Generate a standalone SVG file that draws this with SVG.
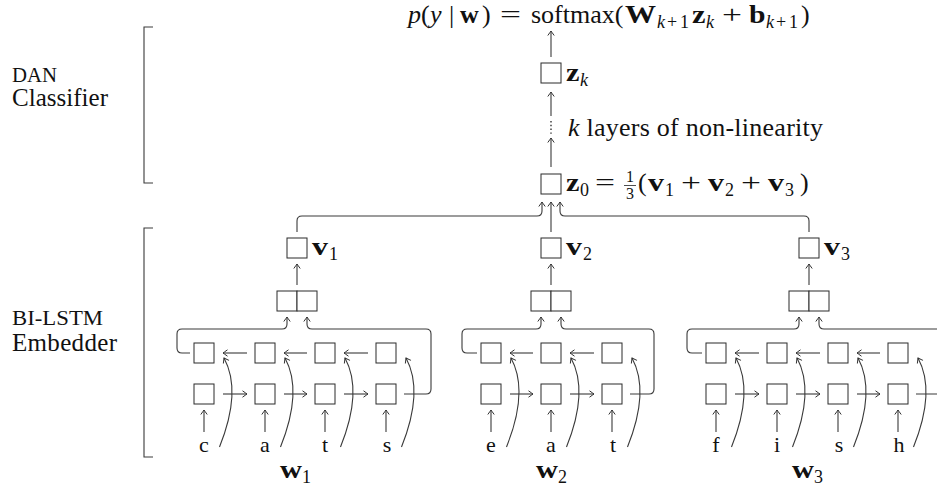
<svg xmlns="http://www.w3.org/2000/svg" width="937" height="490" viewBox="0 0 937 490">
<style>
.box{fill:#fff;stroke:#2b2b2b;stroke-width:1}
.ln{fill:none;stroke:#3a3a3a;stroke-width:1.1}
.ar{marker-end:url(#arr)}
.t{font-family:"Liberation Serif","DejaVu Serif",serif;fill:#111}
.m{font-size:26px}
.b{font-weight:bold}
.i{font-style:italic}
.sub{font-size:18px}
.ch{font-size:22px;text-anchor:middle}
.lab{font-size:25px}
.sc{font-size:20px}
</style>
<defs>
<marker id="arr" viewBox="-6 -5 8 10" markerWidth="8" markerHeight="10" refX="0" refY="0" orient="auto" markerUnits="userSpaceOnUse">
<path d="M-4.5,-3.2 Q-1,-0.7 0,0 Q-1,0.7 -4.5,3.2" fill="none" stroke="#333" stroke-width="1"/>
</marker>
</defs>

<!-- side labels and brackets -->
<g id="dan-label">
<text class="t sc" x="12" y="82" textLength="45" lengthAdjust="spacingAndGlyphs">DAN</text>
<text class="t lab" x="12" y="106" textLength="96">Classifier</text>
<path class="ln" d="M153,27 H144 V183 H153"/>
</g>
<g id="bilstm-label">
<text class="t sc" x="12" y="325" textLength="91" lengthAdjust="spacingAndGlyphs">BI-LSTM</text>
<text class="t lab" x="12" y="351" textLength="105">Embedder</text>
<path class="ln" d="M153,228 H144 V457 H153"/>
</g>

<!-- connectors -->
<g id="connectors">
<!-- top stack -->
<path class="ln ar" d="M551,57 V31"/>
<path class="ln ar" d="M551,116 V92"/>
<path d="M551,121 V134" fill="none" stroke="#333" stroke-width="1.4" stroke-dasharray="1.4 2.4"/>
<path class="ln ar" d="M551,167 V138"/>
<!-- v to z0 -->
<path class="ln ar" d="M297,232 V221 Q297,216 302,216 H537 Q542,216 542,211 V202"/>
<path class="ln ar" d="M551,232 V202"/>
<path class="ln ar" d="M809,232 V221 Q809,216 804,216 H565 Q560,216 560,211 V202"/>
<!-- concat to v -->
<path class="ln ar" d="M297,285 V264"/>
<path class="ln ar" d="M551,285 V264"/>
<path class="ln ar" d="M809,285 V264"/>
<!-- word 1 final states -->
<path class="ln ar" d="M190,353 H182 Q177,353 177,348 V334 Q177,329 182,329 H282 Q287,329 287,324 V317"/>
<path class="ln ar" d="M404,394 H426 Q431,394 431,389 V334 Q431,329 426,329 H312 Q307,329 307,324 V317"/>
<!-- word 2 final states -->
<path class="ln ar" d="M477,353 H467 Q462,353 462,348 V334 Q462,329 467,329 H536 Q541,329 541,324 V317"/>
<path class="ln ar" d="M630,394 H649 Q654,394 654,389 V334 Q654,329 649,329 H566 Q561,329 561,324 V317"/>
<!-- word 3 final states -->
<path class="ln ar" d="M702,353 H692 Q687,353 687,348 V334 Q687,329 692,329 H794 Q799,329 799,324 V317"/>
<path class="ln ar" d="M916,394 H950 Q955,394 955,389 V334 Q955,329 950,329 H824 Q819,329 819,324 V317"/>
<!-- word 1 recurrences -->
<path class="ln ar" d="M223,394 H247"/><path class="ln ar" d="M284,394 H307"/><path class="ln ar" d="M344,394 H368"/>
<path class="ln ar" d="M247,353 H223"/><path class="ln ar" d="M307,353 H284"/><path class="ln ar" d="M368,353 H344"/>
<!-- word 2 recurrences -->
<path class="ln ar" d="M510,394 H533"/><path class="ln ar" d="M570,394 H594"/>
<path class="ln ar" d="M533,353 H510"/><path class="ln ar" d="M594,353 H570"/>
<!-- word 3 recurrences -->
<path class="ln ar" d="M735,394 H759"/><path class="ln ar" d="M796,394 H820"/><path class="ln ar" d="M857,394 H880"/>
<path class="ln ar" d="M759,353 H735"/><path class="ln ar" d="M820,353 H796"/><path class="ln ar" d="M880,353 H857"/>
<!-- char inputs to forward cells -->
<path class="ln ar" d="M204,432 V410"/><path class="ln ar" d="M265,432 V410"/><path class="ln ar" d="M325,432 V410"/><path class="ln ar" d="M386,432 V410"/>
<path class="ln ar" d="M491,432 V410"/><path class="ln ar" d="M551,432 V410"/><path class="ln ar" d="M612,432 V410"/>
<path class="ln ar" d="M716,432 V410"/><path class="ln ar" d="M777,432 V410"/><path class="ln ar" d="M838,432 V410"/><path class="ln ar" d="M898,432 V410"/>
<!-- char inputs to backward cells (arcs) -->
<path class="ln ar" d="M219.5,447 Q242,391 224,358"/>
<path class="ln ar" d="M280.5,447 Q303,391 285,358"/>
<path class="ln ar" d="M340.5,447 Q363,391 345,358"/>
<path class="ln ar" d="M401.5,447 Q424,391 406,358"/>
<path class="ln ar" d="M506.5,447 Q529,391 511,358"/>
<path class="ln ar" d="M566.5,447 Q589,391 571,358"/>
<path class="ln ar" d="M627.5,447 Q650,391 632,358"/>
<path class="ln ar" d="M731.5,447 Q754,391 736,358"/>
<path class="ln ar" d="M792.5,447 Q815,391 797,358"/>
<path class="ln ar" d="M853.5,447 Q876,391 858,358"/>
<path class="ln ar" d="M913.5,447 Q936,391 918,358"/>
</g>

<!-- output formula -->
<g id="output">
<text class="t m" y="23"><tspan x="408" class="i">p</tspan><tspan x="421">(</tspan><tspan x="430" class="i">y</tspan><tspan x="449">|</tspan><tspan x="460" class="b">w</tspan><tspan x="482">)</tspan><tspan x="531">softmax(</tspan></text>
<text class="t m" x="500" y="23" textLength="21" lengthAdjust="spacingAndGlyphs">=</text>
<text class="t m b" x="625" y="23" textLength="31" lengthAdjust="spacingAndGlyphs">W</text>
<text class="t sub" y="28"><tspan x="657" class="i">k</tspan><tspan x="667">+</tspan><tspan x="680">1</tspan></text>
<text class="t m b" x="692" y="23" textLength="13.5" lengthAdjust="spacingAndGlyphs">z</text>
<text class="t sub i" x="706" y="28">k</text>
<text class="t m" x="722" y="23" textLength="20" lengthAdjust="spacingAndGlyphs">+</text>
<text class="t m b" x="749" y="23" textLength="16.5" lengthAdjust="spacingAndGlyphs">b</text>
<text class="t sub" y="28"><tspan x="766" class="i">k</tspan><tspan x="776">+</tspan><tspan x="789">1</tspan></text>
<text class="t m" x="801" y="23">)</text>
</g>

<g id="zk">
<rect class="box" x="541" y="63" width="20" height="20"/>
<text class="t m b" x="566" y="81" textLength="13.5" lengthAdjust="spacingAndGlyphs">z</text>
<text class="t sub i" x="580" y="86">k</text>
</g>

<g id="layers-label">
<text class="t m" x="568" y="136" textLength="255"><tspan class="i">k</tspan> layers of non-linearity</text>
</g>

<g id="z0">
<rect class="box" x="541" y="174" width="20" height="20"/>
<text class="t m b" x="566" y="191" textLength="13.5" lengthAdjust="spacingAndGlyphs">z</text>
<text class="t sub" x="580" y="196">0</text>
<text class="t m" x="595" y="191" textLength="20" lengthAdjust="spacingAndGlyphs">=</text>
<text class="t" x="630" y="182" font-size="16" text-anchor="middle">1</text>
<line x1="624" y1="185.5" x2="636" y2="185.5" stroke="#222" stroke-width="0.8"/>
<text class="t" x="630" y="199" font-size="16" text-anchor="middle">3</text>
<text class="t m" x="638" y="191">(</text>
<text class="t m b" x="648" y="191" textLength="16" lengthAdjust="spacingAndGlyphs">v</text><text class="t sub" x="665" y="196">1</text>
<text class="t m" x="681" y="191" textLength="20" lengthAdjust="spacingAndGlyphs">+</text>
<text class="t m b" x="708" y="191" textLength="16" lengthAdjust="spacingAndGlyphs">v</text><text class="t sub" x="725" y="196">2</text>
<text class="t m" x="741" y="191" textLength="20" lengthAdjust="spacingAndGlyphs">+</text>
<text class="t m b" x="768" y="191" textLength="16" lengthAdjust="spacingAndGlyphs">v</text><text class="t sub" x="785" y="196">3</text>
<text class="t m" x="800" y="191">)</text>
</g>

<g id="v1"><rect class="box" x="287" y="238" width="20" height="20"/><text class="t m b" x="312" y="255" textLength="16" lengthAdjust="spacingAndGlyphs">v</text><text class="t sub" x="329" y="260">1</text></g>
<g id="v2"><rect class="box" x="541" y="238" width="20" height="20"/><text class="t m b" x="566" y="255" textLength="16" lengthAdjust="spacingAndGlyphs">v</text><text class="t sub" x="583" y="260">2</text></g>
<g id="v3"><rect class="box" x="799" y="238" width="20" height="20"/><text class="t m b" x="824" y="255" textLength="16" lengthAdjust="spacingAndGlyphs">v</text><text class="t sub" x="841" y="260">3</text></g>

<g id="concat1"><rect class="box" x="277" y="291" width="20" height="20"/><rect class="box" x="297" y="291" width="20" height="20"/></g>
<g id="concat2"><rect class="box" x="531" y="291" width="20" height="20"/><rect class="box" x="551" y="291" width="20" height="20"/></g>
<g id="concat3"><rect class="box" x="789" y="291" width="20" height="20"/><rect class="box" x="809" y="291" width="20" height="20"/></g>

<!-- word 1 cells -->
<g id="w1-bwd"><rect class="box" x="194" y="343" width="20" height="20"/><rect class="box" x="255" y="343" width="20" height="20"/><rect class="box" x="315" y="343" width="20" height="20"/><rect class="box" x="376" y="343" width="20" height="20"/></g>
<g id="w1-fwd"><rect class="box" x="194" y="384" width="20" height="20"/><rect class="box" x="255" y="384" width="20" height="20"/><rect class="box" x="315" y="384" width="20" height="20"/><rect class="box" x="376" y="384" width="20" height="20"/></g>
<g id="w1-chars"><text class="t ch" x="204" y="452">c</text><text class="t ch" x="265" y="452">a</text><text class="t ch" x="325" y="452">t</text><text class="t ch" x="387" y="452">s</text></g>
<g id="w1-label"><text class="t m b" x="280" y="478" textLength="22" lengthAdjust="spacingAndGlyphs">w</text><text class="t sub" x="302" y="483">1</text></g>

<!-- word 2 cells -->
<g id="w2-bwd"><rect class="box" x="481" y="343" width="20" height="20"/><rect class="box" x="541" y="343" width="20" height="20"/><rect class="box" x="602" y="343" width="20" height="20"/></g>
<g id="w2-fwd"><rect class="box" x="481" y="384" width="20" height="20"/><rect class="box" x="541" y="384" width="20" height="20"/><rect class="box" x="602" y="384" width="20" height="20"/></g>
<g id="w2-chars"><text class="t ch" x="491" y="452">e</text><text class="t ch" x="551" y="452">a</text><text class="t ch" x="613" y="452">t</text></g>
<g id="w2-label"><text class="t m b" x="536" y="478" textLength="22" lengthAdjust="spacingAndGlyphs">w</text><text class="t sub" x="558" y="483">2</text></g>

<!-- word 3 cells -->
<g id="w3-bwd"><rect class="box" x="706" y="343" width="20" height="20"/><rect class="box" x="767" y="343" width="20" height="20"/><rect class="box" x="828" y="343" width="20" height="20"/><rect class="box" x="888" y="343" width="20" height="20"/></g>
<g id="w3-fwd"><rect class="box" x="706" y="384" width="20" height="20"/><rect class="box" x="767" y="384" width="20" height="20"/><rect class="box" x="828" y="384" width="20" height="20"/><rect class="box" x="888" y="384" width="20" height="20"/></g>
<g id="w3-chars"><text class="t ch" x="716" y="452">f</text><text class="t ch" x="777" y="452">i</text><text class="t ch" x="839" y="452">s</text><text class="t ch" x="899" y="452">h</text></g>
<g id="w3-label"><text class="t m b" x="792" y="478" textLength="22" lengthAdjust="spacingAndGlyphs">w</text><text class="t sub" x="814" y="483">3</text></g>
</svg>
